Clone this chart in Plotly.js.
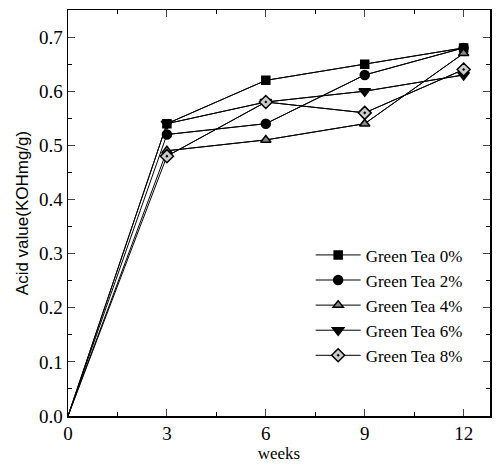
<!DOCTYPE html>
<html><head><meta charset="utf-8">
<script src="https://cdn.plot.ly/plotly-3.0.1.min.js"></script>
<style>html,body{margin:0;padding:0;background:#fff}</style>
</head><body>
<div id="chart" style="width:496px;height:464px"></div>
<script>
const weeks = [0, 3, 6, 9, 12];
const seriesNames = ["Green Tea 0%", "Green Tea 2%", "Green Tea 4%", "Green Tea 6%", "Green Tea 8%"];
const tea0 = [0, 0.54, 0.62, 0.65, 0.68];
const tea2 = [0, 0.52, 0.54, 0.63, 0.68];
const tea4 = [0, 0.49, 0.51, 0.54, 0.67];
const tea6 = [0, 0.54, 0.58, 0.60, 0.63];
const tea8 = [0, 0.48, 0.58, 0.56, 0.64];
const xTicks = [0, 3, 6, 9, 12];
const yTicks = [0, 0.1, 0.2, 0.3, 0.4, 0.5, 0.6, 0.7];

const values = [tea0, tea2, tea4, tea6, tea8];
const symbols = ["square", "circle", "triangle-up", "triangle-down", "diamond-dot"];
const sizes = [8, 9, 9, 10, 10];
const fills = ["black", "black", "#888", "black", "#ccc"];

const traces = [];
values.forEach((v, i) => {
  traces.push({
    x: weeks, y: v, type: "scatter", mode: "lines", showlegend: false,
    line: {color: "black", width: 1}
  });
});
values.forEach((v, i) => {
  traces.push({
    x: weeks.slice(1), y: v.slice(1), name: seriesNames[i], type: "scatter", mode: "lines+markers",
    line: {color: "black", width: 1},
    marker: {symbol: symbols[i], size: sizes[i], color: fills[i], line: {color: "black", width: 1.5}}
  });
});

const layout = {
  width: 496, height: 464,
  margin: {l: 68, r: 6, t: 10, b: 48},
  paper_bgcolor: "#fff", plot_bgcolor: "#fff",
  font: {family: "Liberation Serif, Times New Roman, serif", size: 17, color: "black"},
  showlegend: true,
  legend: {x: 0.575, y: 0.44, xanchor: "left", yanchor: "top", bgcolor: "rgba(0,0,0,0)",
           font: {family: "Liberation Serif, serif", size: 17}, tracegroupgap: 0, itemwidth: 45},
  xaxis: {
    range: [0, 12.8], tickvals: xTicks, ticks: "inside", ticklen: 7, tickwidth: 1,
    showline: true, linecolor: "black", linewidth: 1.5, mirror: "ticks", showgrid: false, zeroline: false,
    minor: {dtick: 1.5, ticks: "inside", ticklen: 4, tickcolor: "black", showgrid: false},
    title: {text: "weeks", font: {family: "Liberation Serif, serif", size: 17}, standoff: 2},
    tickfont: {family: "Liberation Serif, serif", size: 19}
  },
  yaxis: {
    range: [0, 0.75], tickvals: yTicks, tickformat: ".1f", ticks: "inside", ticklen: 7, tickwidth: 1,
    showline: true, linecolor: "black", linewidth: 1.5, mirror: "ticks", showgrid: false, zeroline: false,
    minor: {dtick: 0.05, ticks: "inside", ticklen: 4, tickcolor: "black", showgrid: false},
    title: {text: "Acid value(KOHmg/g)", font: {family: "Liberation Sans, Arial, sans-serif", size: 17}, standoff: 6},
    tickfont: {family: "Liberation Serif, serif", size: 19}
  }
};

Plotly.newPlot("chart", traces, layout, {displayModeBar: false, staticPlot: true});
</script>
</body></html>
